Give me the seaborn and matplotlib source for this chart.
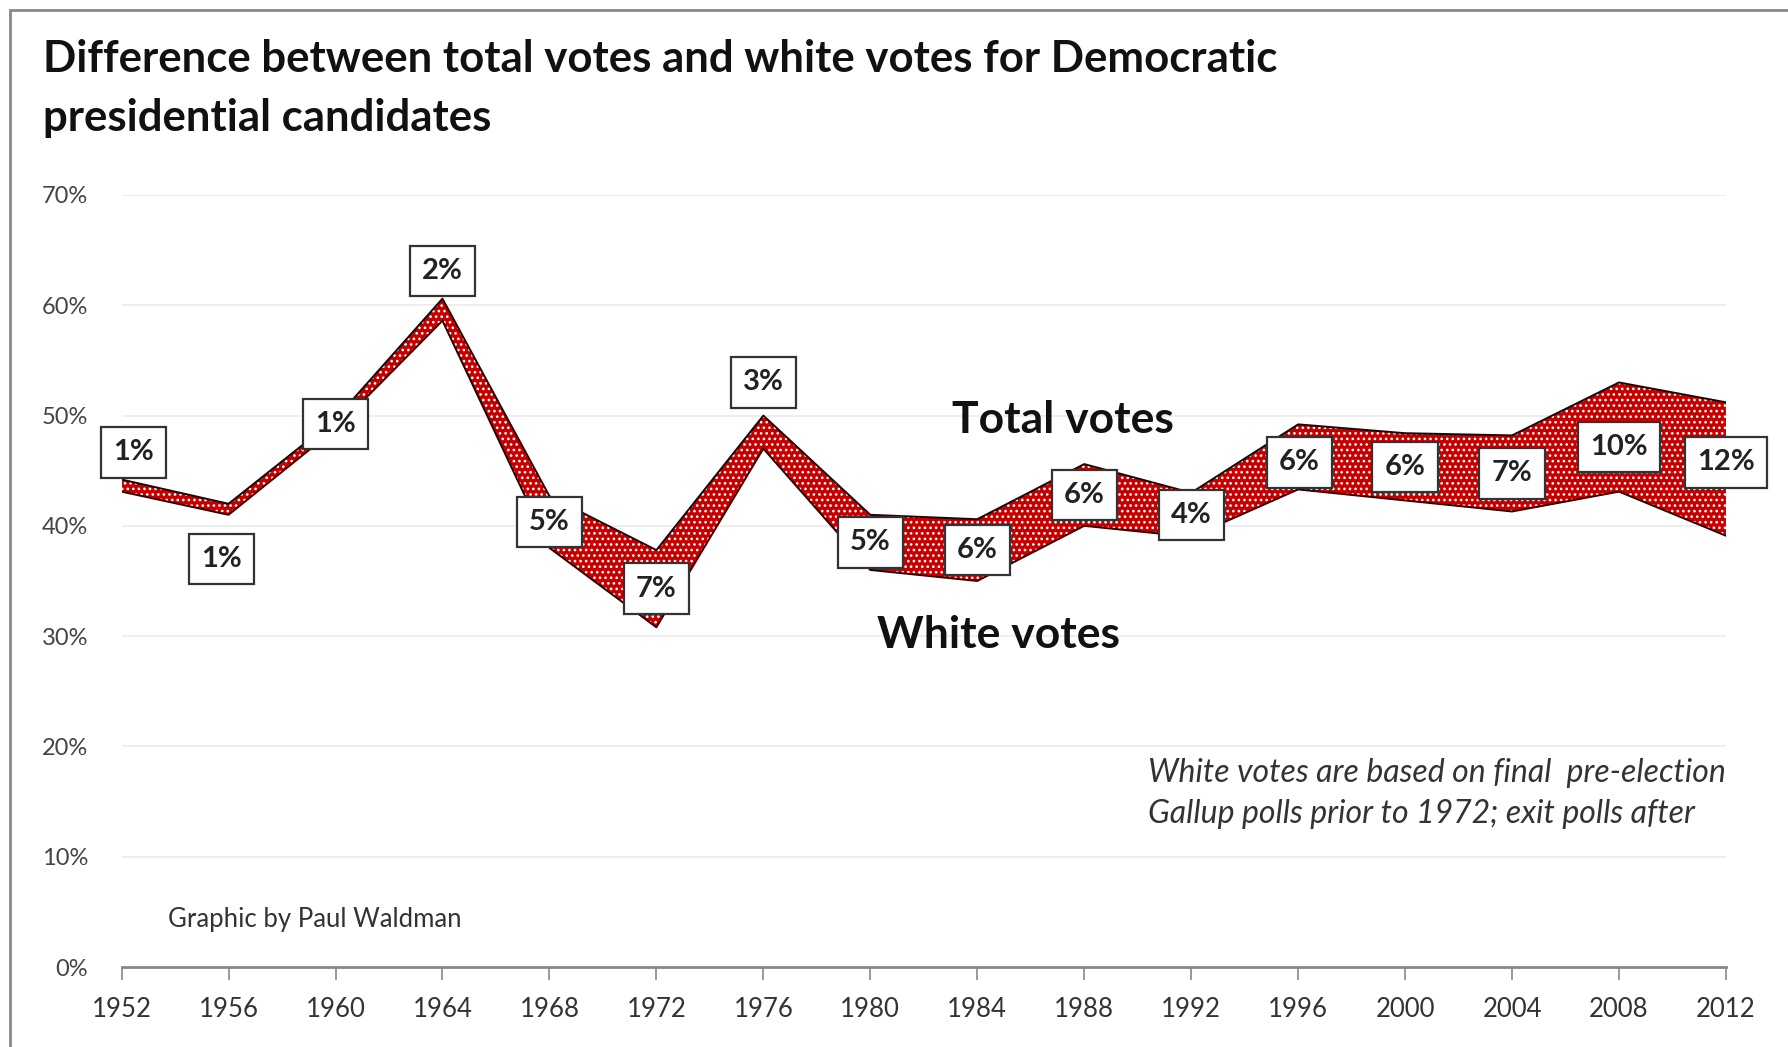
import matplotlib
matplotlib.use("Agg")
import matplotlib.pyplot as plt
import seaborn as sns
import pandas as pd
from matplotlib.patches import Rectangle

# Democratic share of the vote (%)
years = [1952, 1956, 1960, 1964, 1968, 1972, 1976, 1980,
         1984, 1988, 1992, 1996, 2000, 2004, 2008, 2012]
total_votes = [44.2, 42.0, 49.7, 60.6, 42.7, 37.8, 50.0, 41.0,
               40.6, 45.6, 43.0, 49.2, 48.4, 48.2, 53.0, 51.2]
white_votes = [43.1, 41.0, 48.8, 58.6, 38.0, 30.8, 47.0, 36.0,
               35.0, 40.0, 39.0, 43.3, 42.3, 41.3, 43.1, 39.1]
gap_labels = ["1%", "1%", "1%", "2%", "5%", "7%", "3%", "5%",
              "6%", "6%", "4%", "6%", "6%", "7%", "10%", "12%"]

df = pd.DataFrame({"year": years, "total": total_votes, "white": white_votes,
                   "label": gap_labels})

sns.set_style("white")
plt.rcParams["font.family"] = ["Lato", "DejaVu Sans"]
plt.rcParams["hatch.linewidth"] = 1.1

fig = plt.figure(figsize=(17.88, 10.47), dpi=100)
ax = fig.add_axes([0.068, 0.0764, 0.8973, 0.7374])

# band between the two series, red with white dots
ax.fill_between(df["year"], df["white"], df["total"], facecolor="#c60000",
                edgecolor="white", hatch="...", linewidth=0, zorder=2)
sns.lineplot(data=df, x="year", y="total", color="#2a0000", lw=1.4, ax=ax, zorder=3)
sns.lineplot(data=df, x="year", y="white", color="#2a0000", lw=1.4, ax=ax, zorder=3)

# label placement: shift from the band midpoint (years, points of %)
shift = {1952: (0.45, 3.0), 1956: (-0.25, -4.5), 1964: (0, 3.5),
         1976: (0, 4.5), 1996: (0.05, -0.5), 2008: (0, -0.9), 2012: (0, 0.6)}
for _, r in df.iterrows():
    dx, dy = shift.get(r["year"], (0, 0))
    ax.text(r["year"] + dx, (r["total"] + r["white"]) / 2 + dy, r["label"],
            ha="center", va="center", fontsize=21, fontweight="bold", color="#222",
            zorder=5, clip_on=False,
            bbox=dict(boxstyle="square,pad=0.42", fc="white", ec="#333", lw=1.6))

ax.text(1987.2, 49.6, "Total votes", ha="center", va="center",
        fontsize=32, fontweight="bold", color="#111")
ax.text(1984.8, 30.1, "White votes", ha="center", va="center",
        fontsize=32, fontweight="bold", color="#111")
ax.text(1990.4, 17.6, "White votes are based on final  pre-election",
        ha="left", va="center", fontsize=23, style="italic", color="#333")
ax.text(1990.4, 13.9, "Gallup polls prior to 1972; exit polls after",
        ha="left", va="center", fontsize=23, style="italic", color="#333")
ax.text(1953.75, 4.3, "Graphic by Paul Waldman", ha="left", va="center",
        fontsize=18.5, color="#333")

ax.set_xlim(1952, 2012)
ax.set_ylim(0, 70)
ax.set_xticks(years)
ax.set_xticklabels([str(y) for y in years])
ax.set_yticks(range(0, 71, 10))
ax.set_yticklabels([f"{v}%" for v in range(0, 71, 10)])
ax.yaxis.grid(True, color="#ebebeb", lw=1.2)
ax.set_axisbelow(True)
ax.set_xlabel("")
ax.set_ylabel("")
for s in ["top", "right", "left"]:
    ax.spines[s].set_visible(False)
ax.spines["bottom"].set_color("#888")
ax.spines["bottom"].set_linewidth(2)
ax.tick_params(axis="x", length=9.5, width=1.2, color="#888", pad=12,
               labelsize=18.5, labelcolor="#333", bottom=True)
ax.tick_params(axis="y", length=0, pad=24, labelsize=17, labelcolor="#444")

fig.text(0.024, 0.931, "Difference between total votes and white votes for Democratic",
         fontsize=31.5, fontweight="bold", color="#111", va="baseline")
fig.text(0.024, 0.875, "presidential candidates",
         fontsize=31.5, fontweight="bold", color="#111", va="baseline")

# grey frame on the left and top edges
fig.patches.append(Rectangle((10 / 1788, -0.05), 1.2, 1 - 10 / 1047 + 0.05,
                             transform=fig.transFigure, fill=False,
                             ec="#888", lw=2, figure=fig))

fig.savefig("out.png", dpi=100)
